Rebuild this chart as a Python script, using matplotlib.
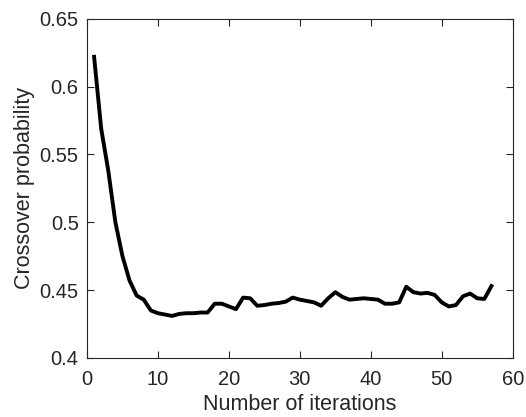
import matplotlib
matplotlib.use("Agg")
import matplotlib.pyplot as plt
import numpy as np

iterations = np.arange(1, 58)
crossover_prob = [
    0.622, 0.569, 0.538, 0.500, 0.475, 0.457, 0.446, 0.443, 0.435, 0.433,
    0.432, 0.431, 0.4325, 0.433, 0.433, 0.4335, 0.4335, 0.440, 0.440, 0.438,
    0.436, 0.4445, 0.444, 0.4385, 0.439, 0.440, 0.4405, 0.4415, 0.4445, 0.443,
    0.442, 0.441, 0.4385, 0.444, 0.4485, 0.445, 0.443, 0.4435, 0.444, 0.4435,
    0.443, 0.440, 0.440, 0.441, 0.4525, 0.4485, 0.4475, 0.448, 0.4465, 0.441,
    0.438, 0.439, 0.4455, 0.4475, 0.444, 0.4435, 0.453,
]
x_ticks = [0, 10, 20, 30, 40, 50, 60]
y_ticks = [0.4, 0.45, 0.5, 0.55, 0.6, 0.65]
y_labels = ["0.4", "0.45", "0.5", "0.55", "0.6", "0.65"]

plt.rcParams["font.family"] = ["Liberation Sans", "DejaVu Sans"]
txt = "#262626"

fig = plt.figure(figsize=(5.26, 4.17), dpi=100)
ax = fig.add_axes([0.1654, 0.1415, 0.8093, 0.8135])
ax.plot(iterations, crossover_prob, color="black", lw=2.8)

ax.set_xlim(0, 60)
ax.set_ylim(0.4, 0.65)
ax.set_xticks(x_ticks)
ax.set_yticks(y_ticks)
ax.set_yticklabels(y_labels)
ax.tick_params(direction="in", top=True, right=True, length=5, width=0.8,
               labelsize=14.5, colors=txt)
ax.tick_params(axis="x", pad=9)
ax.tick_params(axis="y", pad=6)
for s in ax.spines.values():
    s.set_color(txt)
    s.set_linewidth(0.8)
ax.set_xlabel("Number of iterations", fontsize=15.5, color=txt, labelpad=3)
ax.set_ylabel("Crossover probability", fontsize=15.5, color=txt, labelpad=3)

fig.savefig("out.png", dpi=100)
